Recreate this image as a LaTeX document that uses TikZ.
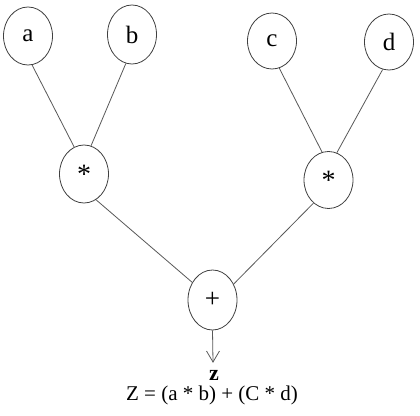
\documentclass[tikz,border=0pt]{standalone}
\usepackage{fontspec}
\setmainfont{Liberation Serif}
\usetikzlibrary{shapes.geometric,calc}
\tikzset{
  opnode/.style={ellipse, draw=black!75, line width=0.8pt, inner sep=0pt,
    minimum width=49pt, minimum height=58pt, font=\fontsize{25}{28}\selectfont},
  edge/.style={draw=black!65, line width=0.8pt},
  lbl/.style={inner sep=0pt, font=\fontsize{20}{24}\selectfont}
}
\begin{document}
\begin{tikzpicture}[x=1pt,y=-1pt]
\useasboundingbox[fill=white] (0,0) rectangle (420,415);
\node[opnode] (a) at (28,36) {a};
\node[opnode,minimum height=59pt] (b) at (132,34.5) {b};
\node[opnode,minimum height=56pt] (c) at (272,41) {c};
\node[opnode,minimum height=56pt] (d) at (389,42) {d};
\node[opnode,font=\fontsize{28}{30}\selectfont] (m1) at (84,174) {*};
\node[opnode,minimum height=57pt,font=\fontsize{28}{30}\selectfont] (m2) at (328.5,180) {*};
\node[opnode,minimum height=60pt,font=\fontsize{27}{30}\selectfont] (p) at (212.5,300) {+};
\coordinate (tip) at (213,362);
\node[lbl,font=\fontsize{22}{24}\selectfont\bfseries] (z) at (214,375) {z};
\node[lbl,font=\fontsize{21}{24}\selectfont] (eq) at (212,395) {Z = (a * b) + (C * d)};
\draw[edge] (a.-82) -- (m1.110);
\draw[edge] (b.-102) -- (m1.76);
\draw[edge] (c.-75) -- (m2.103);
\draw[edge] (d.-103) -- (m2.73);
\draw[edge] (m1.-65) -- (p.139);
\draw[edge] (m2.-123) -- (p.37);
\draw[edge] (p.south) -- (tip);
\draw[edge] ($(tip)+(-6.5,-11)$) -- (tip) -- ($(tip)+(6.5,-11)$);
\end{tikzpicture}
\end{document}
